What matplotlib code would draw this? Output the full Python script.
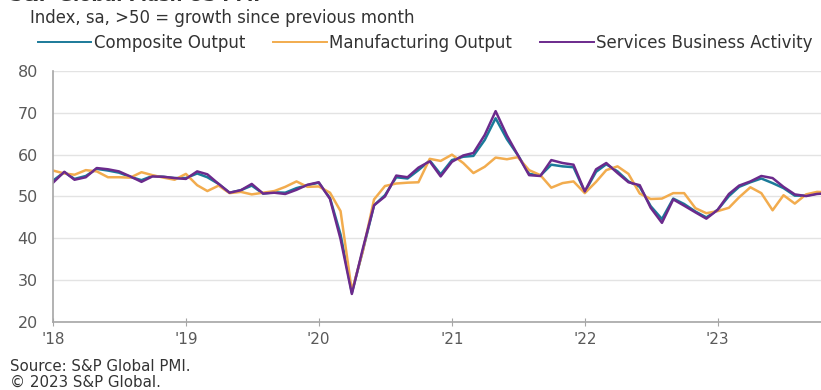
import matplotlib
matplotlib.use("Agg")
import matplotlib.pyplot as plt
from matplotlib.lines import Line2D
import pandas as pd

plt.rcParams['font.family'] = ['DejaVu Sans']

# monthly flash PMI readings, Jan 2018 - Nov 2023
months = pd.date_range('2018-01-01', '2023-11-01', freq='MS')

composite = [53.8, 55.8, 54.2, 54.9, 56.6, 56.2, 55.7, 54.7, 53.9, 54.9, 54.7, 54.4,
             54.4, 55.5, 54.6, 53.0, 50.9, 51.5, 52.6, 50.7, 51.0, 50.9, 52.0, 52.7,
             53.3, 49.6, 40.9, 27.0, 37.0, 47.9, 50.3, 54.6, 54.3, 56.3, 58.6, 55.3,
             58.7, 59.5, 59.7, 63.5, 68.7, 63.7, 59.9, 55.4, 55.0, 57.6, 57.2, 57.0,
             51.1, 55.9, 57.7, 56.0, 53.6, 52.3, 47.7, 44.6, 49.5, 48.2, 46.4, 45.0,
             46.8, 50.1, 52.3, 53.4, 54.3, 53.2, 52.0, 50.2, 50.2, 50.7, 50.7]

manufacturing = [56.2, 55.5, 55.2, 56.3, 56.0, 54.6, 54.6, 54.5, 55.8, 55.1, 54.5, 54.0,
                 55.4, 52.7, 51.3, 52.6, 50.8, 51.1, 50.5, 50.9, 51.3, 52.3, 53.6, 52.3,
                 52.4, 50.9, 46.5, 27.4, 36.9, 49.3, 52.5, 53.1, 53.3, 53.4, 59.0, 58.5,
                 60.0, 58.0, 55.6, 57.1, 59.3, 58.9, 59.4, 56.3, 55.1, 52.1, 53.2, 53.6,
                 50.8, 53.5, 56.3, 57.2, 55.4, 50.7, 49.4, 49.5, 50.8, 50.8, 47.2, 46.0,
                 46.5, 47.3, 49.8, 52.2, 50.8, 46.7, 50.3, 48.3, 50.5, 51.1, 51.0]

services = [53.3, 55.9, 54.0, 54.6, 56.8, 56.5, 56.0, 54.8, 53.5, 54.8, 54.7, 54.4,
            54.2, 56.0, 55.3, 53.0, 50.9, 51.5, 53.0, 50.7, 50.9, 50.6, 51.6, 52.8,
            53.4, 49.4, 39.8, 26.7, 37.5, 47.9, 50.0, 55.0, 54.6, 56.9, 58.4, 54.8,
            58.3, 59.8, 60.4, 64.7, 70.4, 64.6, 59.9, 55.1, 54.9, 58.7, 58.0, 57.6,
            51.2, 56.5, 58.0, 55.6, 53.4, 52.7, 47.3, 43.7, 49.3, 47.8, 46.2, 44.7,
            46.8, 50.6, 52.6, 53.6, 54.9, 54.4, 52.3, 50.5, 50.1, 50.6, 50.8]

series_names = ['Composite Output', 'Manufacturing Output', 'Services Business Activity']
colors = ['#1b7a99', '#f2ac4e', '#6b2a8c']
year_ticks = pd.date_range('2018-01-01', '2023-01-01', freq='YS')
year_labels = ["'18", "'19", "'20", "'21", "'22", "'23"]

fig = plt.figure(figsize=(8.21, 3.90), dpi=100)
ax = fig.add_axes([0.0646, 0.1744, 0.9354, 0.6436])

for vals, name, c in zip([composite, manufacturing, services], series_names, colors):
    ax.plot(months, vals, color=c, lw=1.8, label=name, solid_joinstyle='round')

ax.set_ylim(20, 80)
ax.set_yticks(range(20, 81, 10))
ax.set_xlim(pd.Timestamp('2018-01-01'), pd.Timestamp('2023-10-12'))
ax.set_xticks(year_ticks)
ax.set_xticklabels(year_labels)

ax.grid(axis='y', color='#e3e3e3', lw=1)
ax.set_axisbelow(True)
for s in ['top', 'right']:
    ax.spines[s].set_visible(False)
for s in ['left', 'bottom']:
    ax.spines[s].set_color('#a6a6a6')
    ax.spines[s].set_linewidth(1.2)
ax.tick_params(axis='y', length=0, pad=11, labelsize=11.5, labelcolor='#595959')
ax.tick_params(axis='x', direction='inout', length=6, color='#a6a6a6',
               labelsize=11, labelcolor='#595959', pad=4)

# title is cut off at the top of the image
fig.text(0.012, 1.01, 'S&P Global Flash US PMI', fontsize=13, fontweight='bold',
         color='#333333', va='center')
fig.text(0.036, 0.955, 'Index, sa, >50 = growth since previous month', fontsize=11.9,
         color='#333333', va='center')

handles = [Line2D([0], [0], color=c, lw=1.4) for c in colors]
fig.legend(handles, series_names, loc='center left', bbox_to_anchor=(0.038, 0.889),
           ncol=3, frameon=False, fontsize=12, handlelength=3.2, handletextpad=0.15,
           columnspacing=1.7, labelcolor='#333333', borderaxespad=0)

fig.text(0.012, 0.059, 'Source: S&P Global PMI.', fontsize=10.8, color='#333333', va='center')
fig.text(0.012, 0.02, '\u00a9 2023 S&P Global.', fontsize=10.8, color='#333333', va='center')

fig.savefig('out.png', dpi=100)
